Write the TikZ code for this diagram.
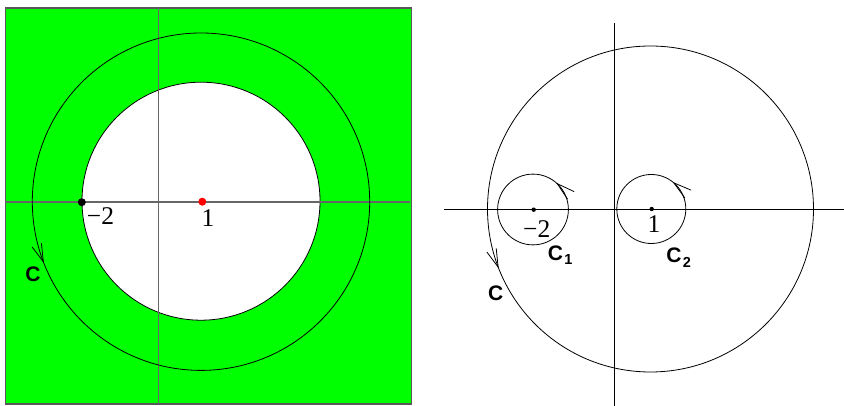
\documentclass[tikz,border=0pt]{standalone}
\usepackage{fontspec}
\setmainfont{Liberation Serif}
\newfontfamily\lsans{Liberation Sans}
\usetikzlibrary{arrows.meta,decorations.markings}
\definecolor{brightgreen}{RGB}{0,255,0}
\tikzset{
  thinline/.style={line width=0.8pt},
  axisL/.style={line width=1.2pt,draw=black!60},
  axisR/.style={line width=0.9pt,draw=black},
  numlabel/.style={font=\fontsize{25.5}{25.5}\selectfont,inner sep=0pt},
  clabel/.style={font=\lsans\bfseries\fontsize{21}{21}\selectfont,inner sep=0pt},
  subl/.style={font=\lsans\bfseries\fontsize{14.5}{14.5}\selectfont,inner sep=0pt},
  dirmark/.style={postaction={decorate},decoration={markings,
     mark=at position #1 with {\arrow{Straight Barb[length=18pt,width=10pt,line width=0.8pt]}}}}
}
\begin{document}
\begin{tikzpicture}[x=1pt,y=1pt]
\useasboundingbox (0,0) rectangle (844,406);
% ---------- left panel ----------
\fill[brightgreen] (5.5,2) rectangle (411.5,398);
\draw[line width=1.3pt,draw=black!65] (5.5,2) rectangle (411.5,398);
\fill[white] (201,204.8) circle[radius=119];
\draw[thinline] (201,204.8) circle[radius=119];
\draw[axisL] (158.7,398) -- (158.7,2);
\draw[axisL] (4.5,204) -- (409.5,204);
\draw[thinline,dirmark=0.5594] (201,204.3) circle[radius=168.7];
\fill[black] (81.8,203.8) circle[radius=4];
\fill[red] (202.3,204.3) circle[radius=4];
\node[numlabel] (m2L) at (100.5,190) {−2};
\node[numlabel] (oneL) at (208,188) {1};
\node[clabel] (CL) at (33,132) {C};
% ---------- right panel ----------
\draw[axisR] (614.3,382.7) -- (614.3,0);
\draw[axisR] (444.3,196.7) -- (844,196.7);
\draw[thinline,dirmark=0.5594] (650.5,197) circle[radius=163];
\draw[thinline,dirmark=0.1367] (533,196.5) circle[radius=35.4];
\draw[thinline,dirmark=0.1433] (651.3,197) circle[radius=34.5];
\fill[black] (533.7,196.3) circle[radius=2.2];
\fill[black] (651.7,197) circle[radius=2.2];
\node[numlabel] (m2R) at (536.7,177) {−2};
\node[numlabel] (oneR) at (654,181.5) {1};
\node[clabel] (C1) at (555.5,153) {C};
\node[subl,anchor=west] (C1s) at ([xshift=0.8pt,yshift=-7pt]C1.east) {1};
\node[clabel] (C2) at (674,150.5) {C};
\node[subl,anchor=west] (C2s) at ([xshift=0.8pt,yshift=-7pt]C2.east) {2};
\node[clabel] (CR) at (495.7,112.7) {C};
\end{tikzpicture}
\end{document}
